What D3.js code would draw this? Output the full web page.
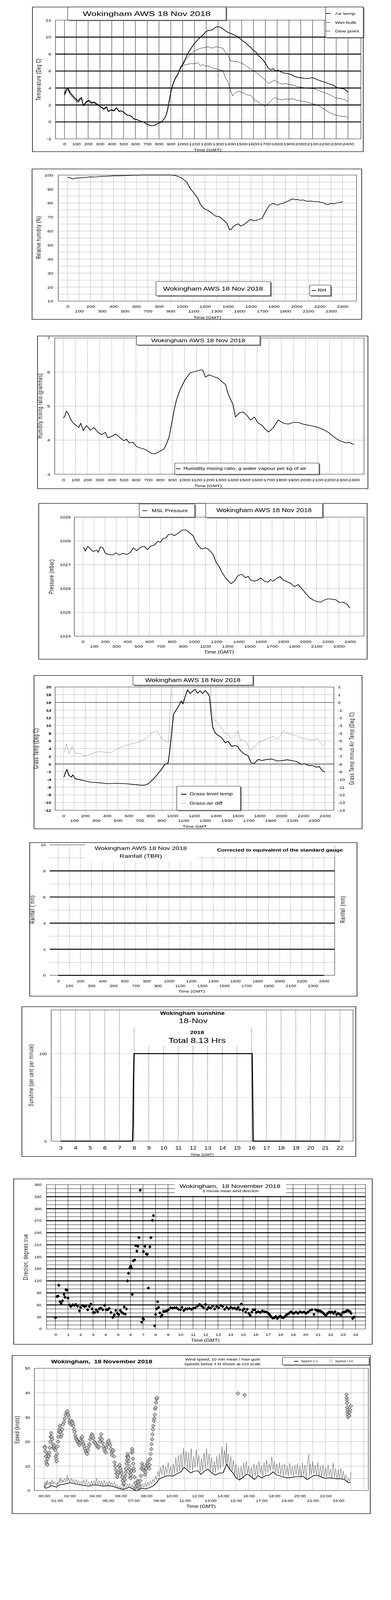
<!DOCTYPE html>
<html>
<head>
<meta charset="utf-8">
<script src="https://cdn.jsdelivr.net/npm/d3@7"></script>
<style>
  html, body { margin: 0; padding: 0; background: #fff; overflow: hidden; }
  #chart svg { display: block; }
  text { white-space: pre; }
</style>
</head>
<body>
<div id="chart"></div>
<script>
// ---------- data ----------
// AWS charts run on a 0..2400 time axis, wind and sun charts on hours
const hundredTicks = d3.range(0, 2401, 100);
const evenTicks = d3.range(0, 2401, 200);
const oddTicks = d3.range(100, 2400, 200);
const sunHourTicks = d3.range(3, 23);
const windHourTicks = d3.range(0, 25);
const evenHourTicks = d3.range(0, 23, 2);
const oddHourTicks = d3.range(1, 24, 2);

const tempAir = [[0,3.31],[15,3.85],[30,3.97],[47,3.49],[68,3.13],[89,2.83],[115,2.47],[132,2.77],[144,2.89],[159,1.92],[185,2.41],[206,2.55],[227,2.28],[249,2.35],[270,2.16],[291,1.98],[312,1.74],[334,1.56],[355,1.8],[370,1.26],[397,1.44],[418,1.32],[440,1.68],[461,1.26],[482,1.32],[503,1.14],[525,0.84],[546,0.78],[567,0.66],[588,0.35],[610,0.29],[631,0.17],[652,0.05],[673,-0.01],[695,-0.25],[716,-0.37],[737,-0.43],[758,-0.43],[780,-0.25],[801,-0.13],[822,-0.01],[843,0.35],[858,0.72],[871,1.32],[879,1.92],[890,2.77],[901,3.61],[918,4.46],[939,5.18],[960,5.66],[981,6.39],[1003,6.87],[1024,7.47],[1045,8.08],[1066,8.56],[1088,9.04],[1109,9.41],[1130,9.71],[1151,10.01],[1173,10.25],[1194,10.61],[1215,10.79],[1236,10.79],[1257,10.91],[1279,11.16],[1300,11.24],[1321,11.16],[1342,10.97],[1363,10.73],[1385,10.55],[1406,10.43],[1427,10.31],[1448,10.19],[1470,10.01],[1491,9.77],[1512,9.53],[1533,9.34],[1554,9.04],[1576,8.8],[1597,8.44],[1618,8.26],[1640,7.84],[1661,7.6],[1682,7.29],[1703,6.87],[1725,6.33],[1746,6.15],[1767,6.27],[1788,6.03],[1809,6.09],[1831,5.91],[1852,5.78],[1884,5.72],[1916,5.6],[1948,5.36],[1979,5.24],[2011,5.18],[2043,5.12],[2075,5.12],[2096,5.24],[2117,5.12],[2149,4.94],[2181,4.76],[2213,4.64],[2245,4.46],[2277,4.34],[2298,4.1],[2330,3.97],[2362,3.91],[2383,3.73],[2400,3.49]];
const tempWet = [[0,3.2],[15,3.7],[30,3.85],[47,3.35],[68,3.0],[89,2.7],[115,2.35],[132,2.65],[144,2.8],[159,1.9],[185,2.35],[206,2.5],[227,2.2],[249,2.3],[270,2.1],[291,1.95],[312,1.7],[334,1.5],[355,1.75],[370,1.22],[397,1.4],[418,1.28],[440,1.64],[461,1.22],[482,1.3],[503,1.1],[525,0.82],[546,0.76],[567,0.64],[588,0.33],[610,0.27],[631,0.15],[652,0.03],[673,-0.03],[695,-0.27],[716,-0.38],[737,-0.44],[758,-0.44],[780,-0.26],[801,-0.14],[822,-0.02],[843,0.34],[858,0.7],[871,1.3],[879,1.9],[890,2.75],[901,3.58],[918,4.42],[939,5.14],[960,5.62],[981,6.3],[1003,6.75],[1024,7.23],[1045,7.66],[1066,7.96],[1088,8.26],[1109,8.44],[1130,8.56],[1151,8.68],[1173,8.74],[1194,8.8],[1215,8.86],[1236,8.74],[1257,8.71],[1279,8.86],[1300,8.83],[1321,8.74],[1342,8.68],[1363,8.14],[1385,7.9],[1402,7.23],[1427,7.17],[1459,7.11],[1491,6.99],[1523,6.75],[1554,6.45],[1587,6.15],[1618,5.85],[1650,5.54],[1682,5.12],[1703,4.88],[1728,4.52],[1756,4.76],[1777,4.94],[1809,4.64],[1841,4.46],[1873,4.52],[1905,4.4],[1937,4.34],[1969,4.16],[2000,4.1],[2032,4.03],[2064,3.97],[2096,3.95],[2128,3.85],[2160,3.67],[2192,3.49],[2224,3.31],[2256,3.13],[2288,2.89],[2319,2.77],[2351,2.71],[2379,2.59],[2400,2.41]];
const tempDew = [[0,3.1],[15,3.55],[30,3.75],[47,3.25],[68,2.9],[89,2.6],[115,2.25],[132,2.55],[144,2.7],[159,1.85],[185,2.3],[206,2.45],[227,2.15],[249,2.25],[270,2.05],[291,1.9],[312,1.65],[334,1.45],[355,1.7],[370,1.2],[397,1.38],[418,1.25],[440,1.6],[461,1.2],[482,1.28],[503,1.08],[525,0.8],[546,0.74],[567,0.62],[588,0.32],[610,0.26],[631,0.14],[652,0.02],[673,-0.04],[695,-0.28],[716,-0.39],[737,-0.45],[758,-0.45],[780,-0.27],[801,-0.15],[822,-0.03],[843,0.33],[858,0.68],[871,1.28],[879,1.88],[890,2.72],[901,3.55],[918,4.38],[939,5.1],[960,5.58],[981,6.35],[1003,6.63],[1024,6.75],[1045,6.81],[1066,6.87],[1098,6.87],[1130,6.99],[1151,6.63],[1173,6.75],[1194,6.57],[1215,6.63],[1247,6.39],[1279,6.27],[1311,6.15],[1342,6.03],[1363,5.18],[1385,4.7],[1402,3.85],[1423,3.07],[1448,3.49],[1480,3.61],[1512,3.43],[1544,3.19],[1576,3.13],[1608,2.59],[1640,2.35],[1671,2.04],[1692,1.86],[1724,2.16],[1756,2.59],[1777,2.89],[1809,2.71],[1841,2.59],[1873,2.71],[1905,2.67],[1937,2.74],[1969,2.53],[2000,2.47],[2032,2.41],[2064,2.28],[2096,2.16],[2128,2.04],[2160,1.86],[2192,1.56],[2224,1.26],[2256,1.02],[2288,0.84],[2319,0.72],[2351,0.66],[2379,0.66],[2400,0.47]];

const rhSeries = [[0,98.3],[20,98],[44,97.2],[70,97.8],[110,98.0],[150,98.2],[197,98.7],[240,98.6],[285,99.0],[340,99.1],[394,99.4],[450,99.5],[504,99.6],[560,99.8],[613,99.9],[700,100],[800,100],[900,100],[941,99.6],[985,98.4],[1018,96.4],[1040,94.9],[1073,90.1],[1106,86.9],[1139,83],[1160,79],[1193,75.9],[1226,74.7],[1259,72.7],[1292,70.7],[1325,70.3],[1358,68],[1390,65.6],[1415,60.8],[1430,61.2],[1445,63.2],[1470,64.5],[1489,65.2],[1511,63.6],[1544,64.8],[1577,67.2],[1598,68.4],[1620,67.4],[1642,67.6],[1670,68.2],[1697,69.1],[1730,74.3],[1763,78.6],[1796,79.8],[1820,78.8],[1839,78.6],[1860,79.5],[1883,79.8],[1905,80.8],[1927,81.4],[1960,83],[1985,82.4],[2004,82.6],[2030,82.0],[2058,82.2],[2090,81.2],[2124,81.4],[2160,81.0],[2190,81],[2210,80.5],[2233,80.2],[2255,79.2],[2277,79],[2300,79.8],[2321,79.4],[2345,80.0],[2365,80.2],[2400,81]];

const mixRatio = [[0,4.65],[12,4.7],[25,4.85],[40,4.78],[56,4.65],[77,4.52],[97,4.46],[128,4.37],[143,4.5],[166,4.28],[190,4.42],[205,4.38],[222,4.29],[253,4.37],[284,4.24],[315,4.16],[346,4.23],[367,4.07],[398,4.11],[433,4.18],[466,4.08],[501,3.98],[522,4.03],[543,3.92],[574,3.94],[605,3.81],[636,3.77],[667,3.74],[698,3.68],[729,3.61],[760,3.6],[801,3.68],[832,3.74],[853,3.9],[874,4.1],[895,4.49],[915,4.88],[936,5.2],[967,5.5],[1008,5.79],[1050,5.98],[1091,6.02],[1133,6.06],[1153,6.05],[1174,5.85],[1205,5.92],[1236,5.87],[1278,5.82],[1309,5.72],[1340,5.63],[1360,5.37],[1381,5.2],[1402,5.04],[1422,4.68],[1454,4.8],[1485,4.83],[1516,4.73],[1547,4.59],[1578,4.68],[1609,4.5],[1640,4.44],[1671,4.31],[1696,4.24],[1733,4.36],[1775,4.59],[1816,4.5],[1858,4.47],[1899,4.52],[1940,4.52],[1982,4.47],[2023,4.44],[2065,4.41],[2106,4.37],[2148,4.31],[2189,4.23],[2230,4.11],[2261,4.03],[2292,3.97],[2334,3.92],[2365,3.93],[2400,3.87]];

const mslPressure = [[7,1027.73],[22,1027.57],[45,1027.78],[67,1027.66],[94,1027.55],[124,1027.62],[139,1027.52],[157,1027.75],[180,1027.71],[202,1027.48],[229,1027.43],[270,1027.41],[297,1027.5],[326,1027.41],[360,1027.48],[394,1027.43],[427,1027.52],[454,1027.71],[484,1027.59],[517,1027.73],[551,1027.78],[580,1027.64],[607,1027.78],[641,1027.82],[675,1027.99],[697,1027.94],[720,1028.1],[747,1028.13],[769,1028.27],[798,1028.29],[821,1028.22],[854,1028.31],[877,1028.41],[900,1028.47],[933,1028.45],[967,1028.31],[990,1028.22],[1017,1027.94],[1046,1027.75],[1068,1027.66],[1102,1027.71],[1136,1027.62],[1170,1027.43],[1197,1027.1],[1226,1026.92],[1248,1026.69],[1282,1026.45],[1309,1026.31],[1332,1026.2],[1361,1026.31],[1395,1026.55],[1429,1026.6],[1462,1026.45],[1484,1026.52],[1507,1026.36],[1541,1026.31],[1574,1026.36],[1597,1026.45],[1631,1026.31],[1664,1026.27],[1687,1026.38],[1709,1026.31],[1743,1026.43],[1772,1026.5],[1799,1026.36],[1833,1026.29],[1867,1026.22],[1901,1026.08],[1935,1026.17],[1968,1025.99],[2002,1025.8],[2036,1025.62],[2069,1025.52],[2103,1025.45],[2137,1025.43],[2171,1025.52],[2204,1025.57],[2238,1025.55],[2272,1025.53],[2306,1025.41],[2339,1025.43],[2373,1025.34],[2400,1025.18]];

const grassTemp = [[5,-3.4],[16,-2.4],[32,-1.4],[51,-3.0],[74,-3.4],[86,-2.8],[109,-3.8],[155,-4.1],[201,-4.4],[248,-4.7],[294,-4.8],[340,-4.9],[410,-5.1],[479,-5.0],[572,-5.1],[641,-5.3],[710,-5.5],[745,-5.5],[780,-5.1],[803,-4.5],[838,-3.5],[872,-2.4],[907,-1.1],[930,-0.1],[960,0.2],[970,2.1],[988,6.7],[1011,13.0],[1034,14.0],[1062,15.3],[1081,16.4],[1097,15.6],[1115,17.4],[1139,19.3],[1162,18.3],[1185,18.9],[1208,19.4],[1231,18.4],[1254,19.0],[1277,18.3],[1300,19.1],[1324,18.4],[1340,17.6],[1354,13.5],[1370,9.5],[1393,8.1],[1416,7.5],[1451,6.9],[1486,5.5],[1509,5.9],[1544,4.6],[1578,4.8],[1601,4.5],[1624,3.5],[1659,2.6],[1694,2.2],[1722,0.3],[1752,0.2],[1787,1.2],[1821,0.9],[1868,1.2],[1914,1.3],[1960,0.8],[2006,0.9],[2053,1.1],[2099,0.9],[2145,0.6],[2180,-0.1],[2215,0.1],[2249,-0.4],[2284,-0.4],[2319,-0.8],[2349,-0.7],[2377,-1.8],[2400,-2.0]];
const grassAirDiff = [[5,-6.54],[28,-5.39],[51,-6.68],[81,-5.68],[109,-6.61],[155,-6.61],[178,-6.9],[213,-6.9],[248,-6.75],[294,-6.47],[340,-6.39],[386,-6.47],[433,-6.54],[479,-6.11],[526,-5.82],[572,-5.6],[618,-5.39],[664,-5.25],[710,-5.03],[757,-4.67],[798,-4.1],[826,-3.81],[861,-3.67],[896,-4.67],[930,-4.89],[965,-5.25],[984,0.35],[993,2.5],[1100,4],[1340,3],[1349,2.2],[1358,-0.8],[1377,-2.1],[1405,-2.5],[1439,-3.1],[1474,-3.9],[1509,-4.1],[1532,-4.67],[1567,-4.53],[1601,-3.67],[1624,-4.96],[1647,-4.82],[1682,-5.25],[1717,-6.25],[1752,-5.82],[1787,-5.17],[1833,-4.96],[1879,-4.67],[1926,-4.39],[1960,-4.82],[1995,-4.24],[2018,-3.67],[2053,-4.03],[2099,-4.17],[2145,-4.39],[2192,-4.67],[2238,-4.82],[2284,-4.89],[2330,-4.67],[2365,-5.39],[2381,-5.68],[2400,-5.25]];

const rainTotal = [[0,0],[2400,0]];
const sunPct = [[3,0],[7.9,0],[7.93,20],[7.96,70],[8.0,100],[16.03,100],[16.06,60],[16.1,0],[22,0]];

const windDir = [[0,28],[0.12,81],[0.2,82],[0.26,109],[0.36,68],[0.46,63],[0.56,70],[0.68,86],[0.76,79],[0.84,98],[0.92,97],[1.0,77],[1.12,60],[1.22,56],[1.37,60],[1.5,59],[1.63,61],[1.77,57],[1.91,45],[2.0,54],[2.17,59],[2.31,56],[2.43,57],[2.57,48],[2.71,56],[2.83,62],[2.93,50],[3.01,41],[3.13,41],[3.25,48],[3.37,43],[3.49,50],[3.61,52],[3.78,48],[3.92,59],[4.06,48],[4.18,48],[4.3,51],[4.44,41],[4.58,29],[4.7,35],[4.82,46],[4.94,39],[5.06,36],[5.18,46],[5.3,41],[5.42,39],[5.5,55],[5.58,37],[5.68,50],[5.76,120],[5.84,139],[5.94,152],[6.02,157],[6.08,152],[6.14,86],[6.22,170],[6.33,172],[6.41,208],[6.51,194],[6.59,206],[6.67,228],[6.78,346],[6.89,17],[6.99,26],[7.05,24],[7.03,193],[7.15,206],[7.27,187],[7.35,186],[7.43,102],[7.55,205],[7.63,228],[7.75,271],[7.83,283],[7.93,8],[8.01,36],[8.09,50],[8.17,68],[8.25,54],[8.35,40],[8.43,31],[8.53,35],[8.63,44],[8.75,44],[8.9,45],[9.04,48],[9.2,53],[9.36,52],[9.52,53],[9.68,53],[9.84,49],[10.0,48],[10.12,54],[10.26,46],[10.4,50],[10.56,50],[10.72,51],[10.88,49],[11.04,52],[11.2,53],[11.37,57],[11.53,61],[11.69,57],[11.85,53],[12.01,61],[12.13,49],[12.25,54],[12.41,52],[12.57,57],[12.73,50],[12.89,56],[13.05,53],[13.21,59],[13.37,56],[13.53,49],[13.69,54],[13.86,50],[14.02,54],[14.18,51],[14.34,52],[14.5,49],[14.62,54],[14.74,48],[14.86,62],[14.98,46],[15.1,50],[15.22,42],[15.34,49],[15.46,39],[15.58,34],[15.7,42],[15.82,48],[15.94,48],[16.06,41],[16.22,43],[16.39,41],[16.55,45],[16.71,43],[16.87,42],[17.03,39],[17.15,35],[17.27,30],[17.39,27],[17.51,28],[17.63,31],[17.75,26],[17.87,30],[17.99,32],[18.11,29],[18.23,28],[18.35,31],[18.47,35],[18.59,37],[18.71,40],[18.84,43],[18.96,40],[19.08,39],[19.24,42],[19.4,39],[19.56,43],[19.72,41],[19.88,42],[20.04,39],[20.2,42],[20.36,46],[20.52,48],[20.68,36],[20.8,48],[20.92,46],[21.04,45],[21.16,45],[21.29,43],[21.41,40],[21.53,36],[21.65,34],[21.77,39],[21.89,42],[22.01,41],[22.13,42],[22.25,39],[22.37,43],[22.49,36],[22.61,39],[22.73,37],[22.85,35],[22.97,41],[23.09,42],[23.21,43],[23.33,46],[23.45,45],[23.57,43],[23.65,39],[23.77,26],[23.9,30]];

const windMean = [[0,1.8],[0.12,0.9],[0.37,1.4],[0.57,2.0],[0.76,1.8],[0.96,1.4],[1.16,2.3],[1.45,2.5],[1.74,2.9],[2.04,3.2],[2.33,2.9],[2.63,2.5],[2.92,2.3],[3.21,2.0],[3.51,1.8],[3.8,2.3],[4.09,2.3],[4.39,2.0],[4.68,1.8],[4.98,2.0],[5.27,1.8],[5.56,1.4],[5.86,0.9],[6.15,0.45],[6.45,0.9],[6.64,1.4],[6.94,0.7],[7.13,0],[7.33,0.2],[7.62,0.9],[7.92,0.7],[8.21,1.1],[8.5,1.8],[8.8,3.2],[8.99,4.8],[9.19,5.2],[9.48,5.9],[9.78,6.1],[10.07,5.9],[10.36,6.8],[10.66,7.5],[10.95,9.5],[11.15,8.6],[11.44,7.2],[11.74,7.9],[12.03,8.1],[12.26,6.6],[12.52,7.9],[12.81,8.8],[13.11,7.2],[13.4,6.3],[13.7,7.2],[13.99,7.2],[14.28,10.9],[14.48,8.8],[14.77,7.2],[14.97,5.4],[15.26,4.3],[15.56,5.4],[15.85,6.8],[16.14,5.9],[16.44,4.5],[16.73,6.1],[17.03,5.2],[17.32,6.1],[17.61,6.3],[17.91,7.7],[18.2,6.3],[18.5,5.9],[18.79,5.4],[19.08,5.2],[19.38,5.4],[19.67,5.7],[19.96,5.7],[20.26,5.9],[20.55,4.5],[20.85,5.4],[21.14,6.3],[21.43,6.1],[21.73,5.4],[22.02,5.0],[22.31,5.2],[22.61,5.0],[22.9,4.8],[23.2,4.8],[23.49,4.5],[23.78,3.2],[23.97,3.4]];
const windGust = [[0,1.8],[0.05,3.2],[0.1,1.5],[0.15,3.8],[0.2,2.0],[0.25,4.2],[0.3,2.5],[0.4,3.5],[0.45,1.8],[0.5,3.6],[0.55,2.2],[0.6,4.5],[0.7,2.5],[0.75,3.8],[0.85,2.8],[0.9,3.2],[1.0,2.0],[1.05,3.5],[1.1,2.6],[1.2,4.8],[1.25,3.0],[1.3,5.2],[1.4,3.2],[1.45,4.5],[1.5,3.4],[1.6,5.0],[1.7,3.5],[1.8,6.3],[1.85,3.8],[1.9,5.0],[2.0,3.3],[2.1,5.2],[2.2,3.5],[2.3,4.6],[2.4,3.0],[2.5,4.5],[2.6,2.8],[2.7,4.0],[2.8,2.4],[2.9,3.8],[3.0,2.8],[3.1,4.3],[3.2,2.2],[3.3,4.6],[3.4,2.5],[3.5,3.5],[3.6,2.0],[3.7,3.8],[3.8,2.5],[3.9,4.0],[4.0,2.3],[4.1,5.0],[4.2,2.5],[4.3,4.0],[4.4,2.2],[4.5,3.8],[4.6,2.0],[4.7,4.2],[4.8,2.0],[4.9,3.5],[5.0,1.8],[5.1,3.8],[5.2,2.2],[5.3,3.3],[5.4,1.8],[5.5,3.6],[5.6,1.2],[5.7,2.5],[5.8,0.8],[5.9,1.8],[6.0,0.7],[6.1,1.5],[6.2,0.5],[6.3,2.2],[6.4,1.0],[6.5,2.8],[6.6,1.5],[6.7,3.0],[6.8,1.2],[6.9,2.5],[7.0,0.5],[7.1,1.8],[7.2,0.3],[7.3,2.2],[7.4,0.8],[7.5,3.0],[7.6,1.5],[7.7,2.8],[7.8,1.2],[7.9,3.0],[8.0,1.5],[8.1,3.5],[8.2,2.0],[8.3,4.0],[8.4,2.5],[8.5,4.5],[8.6,3.5],[8.7,6.0],[8.8,4.5],[8.9,8.0],[9.0,5.5],[9.1,9.5],[9.2,6.5],[9.3,10.5],[9.4,6.0],[9.5,9.8],[9.6,7.0],[9.7,11.5],[9.8,6.5],[9.9,10.0],[10.0,6.0],[10.1,11.0],[10.2,7.0],[10.3,13.5],[10.4,7.5],[10.5,14.5],[10.6,8.0],[10.7,15.0],[10.8,9.0],[10.9,17.5],[11.0,10.0],[11.1,16.0],[11.2,9.0],[11.3,15.5],[11.4,8.5],[11.5,17.2],[11.6,8.0],[11.7,14.0],[11.8,9.5],[11.9,16.8],[12.0,10.0],[12.1,14.5],[12.2,7.5],[12.3,13.0],[12.4,8.0],[12.5,15.5],[12.6,9.0],[12.7,17.2],[12.8,10.0],[12.9,15.0],[13.0,8.5],[13.1,13.5],[13.2,7.0],[13.3,12.0],[13.4,7.5],[13.5,14.0],[13.6,8.5],[13.7,15.0],[13.8,9.0],[13.9,18.0],[14.0,10.0],[14.1,16.5],[14.2,11.0],[14.25,19.5],[14.3,10.5],[14.4,15.0],[14.5,9.0],[14.6,14.0],[14.7,8.0],[14.8,12.5],[14.9,6.5],[15.0,11.0],[15.1,5.0],[15.2,9.5],[15.3,4.5],[15.4,10.0],[15.5,5.5],[15.6,11.5],[15.7,6.5],[15.8,12.0],[15.9,7.0],[16.0,10.0],[16.1,5.5],[16.2,9.5],[16.3,5.0],[16.4,11.0],[16.5,6.0],[16.6,10.5],[16.7,6.5],[16.8,12.0],[16.9,7.0],[17.0,10.0],[17.1,6.0],[17.2,11.5],[17.3,7.0],[17.4,12.5],[17.5,7.5],[17.6,11.0],[17.7,8.0],[17.8,13.8],[17.9,8.5],[18.0,12.0],[18.1,7.5],[18.2,11.0],[18.3,7.0],[18.4,11.5],[18.5,6.5],[18.6,10.5],[18.7,6.0],[18.8,11.0],[18.9,6.5],[19.0,10.0],[19.1,6.0],[19.2,11.2],[19.3,6.5],[19.4,10.0],[19.5,6.0],[19.6,10.5],[19.7,6.5],[19.8,11.0],[19.9,6.0],[20.0,10.0],[20.1,5.5],[20.2,11.5],[20.3,6.5],[20.4,10.5],[20.5,5.0],[20.6,12.0],[20.7,14.8],[20.75,6.0],[20.8,11.0],[20.9,6.5],[21.0,12.0],[21.1,7.0],[21.2,10.5],[21.3,6.5],[21.4,11.5],[21.5,6.0],[21.6,10.0],[21.7,5.5],[21.8,10.5],[21.9,6.0],[22.0,9.5],[22.1,5.5],[22.2,10.5],[22.3,6.0],[22.4,9.0],[22.5,5.0],[22.6,11.2],[22.7,5.5],[22.8,9.0],[22.9,5.0],[23.0,8.5],[23.1,4.8],[23.2,9.0],[23.3,5.0],[23.4,8.0],[23.5,4.5],[23.6,6.5],[23.7,3.5],[23.8,5.0],[23.9,3.8],[24.0,7.5]];
const windSlow = [[0.04,18],[0.07,17.5],[0.11,16],[0.14,14],[0.17,12],[0.21,11],[0.24,10.5],[0.27,13],[0.31,15],[0.34,14.5],[0.37,14],[0.4,15.5],[0.44,17.5],[0.47,20],[0.51,22],[0.55,23.5],[0.59,22],[0.64,21],[0.68,19],[0.72,17.5],[0.76,17.5],[0.8,18.5],[0.83,17],[0.87,16.5],[0.91,14],[0.94,13],[0.98,12],[1.02,15],[1.05,18],[1.09,20],[1.12,22],[1.15,24],[1.19,25],[1.22,26.5],[1.25,25.5],[1.29,24],[1.32,22],[1.35,23],[1.42,25],[1.48,27],[1.55,28],[1.61,29.5],[1.68,31],[1.75,32],[1.81,32.5],[1.88,31],[1.94,30],[1.99,28.5],[2.04,27.5],[2.09,27],[2.14,28.5],[2.19,28],[2.23,27.5],[2.28,26.5],[2.33,25],[2.38,24],[2.43,22.5],[2.48,21.5],[2.53,21],[2.58,20.5],[2.63,20],[2.68,19.5],[2.72,19],[2.77,18.5],[2.82,19.5],[2.87,20.5],[2.92,21.5],[2.97,22],[3.02,20],[3.08,19],[3.14,18],[3.19,17],[3.25,16],[3.31,15.5],[3.37,15],[3.43,16.5],[3.48,18],[3.54,19],[3.6,21],[3.66,22],[3.73,23],[3.79,22.5],[3.85,21.5],[3.91,20],[3.98,19.5],[4.04,19],[4.1,18.5],[4.16,18],[4.22,17.5],[4.28,18],[4.34,20],[4.4,21.5],[4.46,23],[4.52,21],[4.58,19.5],[4.64,18],[4.7,17],[4.76,16],[4.82,15.5],[4.88,17.5],[4.93,19],[4.99,20],[5.05,20.5],[5.11,19.5],[5.17,18.5],[5.22,17],[5.27,15.5],[5.32,14.5],[5.37,16],[5.42,16.5],[5.46,14],[5.51,11.5],[5.56,10],[5.61,8.5],[5.66,7],[5.71,5.5],[5.76,6.5],[5.81,7.5],[5.86,10],[5.91,10.5],[5.96,9],[6.01,8],[6.05,7],[6.1,5.5],[6.15,4],[6.2,2.5],[6.25,3],[6.3,4.5],[6.35,6],[6.38,7.5],[6.41,9],[6.44,11],[6.47,12.5],[6.5,14],[6.53,15],[6.56,14],[6.59,13.5],[6.62,12],[6.65,10],[6.68,8.5],[6.71,7],[6.73,5.5],[6.76,5],[6.79,6.5],[6.82,8],[6.85,15.5],[6.88,17],[6.91,16],[6.94,13],[6.97,11],[7.0,9],[7.03,8],[7.08,5.5],[7.13,3],[7.18,1.5],[7.23,0.5],[7.28,2],[7.32,4],[7.37,3.5],[7.42,2.5],[7.47,1.5],[7.52,4],[7.57,6],[7.61,9],[7.66,11],[7.7,10],[7.75,8.5],[7.8,9.5],[7.84,8],[7.89,6.5],[7.93,7.5],[7.98,9],[8.03,10.5],[8.07,11],[8.12,12],[8.16,10],[8.21,9],[8.25,10.5],[8.3,13],[8.33,15],[8.37,17],[8.4,19],[8.44,21],[8.47,23],[8.51,25],[8.54,26.5],[8.58,28.5],[8.61,29.5],[8.65,31],[8.68,33.5],[8.72,34],[8.75,36],[8.79,37.5],[8.82,38],[15.16,39.7],[15.68,39.1],[23.65,39.3],[23.66,38],[23.68,37],[23.69,35.8],[23.71,34],[23.72,33],[23.74,32],[23.75,31],[23.77,30],[23.86,30.6],[23.9,32],[23.94,33],[23.98,34.7]];

// ---------- drawing helpers ----------
const FONT = '"Liberation Sans", Arial, Helvetica, sans-serif';
const K = 1.2; // the source bitmaps are stretched sideways

// the page is laid out on a 1000 x 5000 canvas; the window that photographs
// it may be shorter, so the canvas is fitted to whatever height is on offer
const PAGE_W = 1000, PAGE_H = 5000;
const viewH = Math.min(PAGE_H, window.innerHeight || PAGE_H);

const svg = d3.select('#chart').append('svg')
  .attr('width', PAGE_W).attr('height', viewH)
  .attr('viewBox', `0 0 ${PAGE_W} ${PAGE_H}`)
  .attr('preserveAspectRatio', 'none')
  .style('background', '#fff');

function txt(x, y, s, o = {}) {
  const k = o.k ?? K;
  return svg.append('text')
    .attr('transform', `translate(${x},${y}) scale(${k},1)` + (o.rot ? ` rotate(${o.rot})` : ''))
    .attr('text-anchor', o.anchor ?? 'middle')
    .attr('dominant-baseline', 'central')
    .style('font-family', FONT)
    .style('font-size', (o.size ?? 12) + 'px')
    .style('font-weight', o.bold ? 'bold' : 'normal')
    .style('letter-spacing', (o.ls ?? 0) + 'px')
    .attr('fill', o.fill ?? '#000')
    .text(s);
}

function box(x0, y0, x1, y1, o = {}) {
  if (o.shadow) {
    svg.append('rect').attr('x', x0 + 3).attr('y', y0 + 3)
      .attr('width', x1 - x0).attr('height', y1 - y0).attr('fill', '#808080');
  }
  svg.append('rect').attr('x', x0).attr('y', y0)
    .attr('width', x1 - x0).attr('height', y1 - y0)
    .attr('fill', o.fill ?? '#fff').attr('stroke', o.stroke ?? '#000')
    .attr('stroke-width', o.w ?? 1);
}

function whiteOut(x0, y0, x1, y1) {
  svg.append('rect').attr('x', x0).attr('y', y0)
    .attr('width', x1 - x0).attr('height', y1 - y0).attr('fill', '#fff');
}

function hGrid(vals, y, x0, x1, st = {}) {
  svg.append('g').selectAll('line').data(vals).join('line')
    .attr('x1', x0).attr('x2', x1)
    .attr('y1', d => y(d)).attr('y2', d => y(d))
    .attr('stroke', st.c ?? '#000').attr('stroke-width', st.w ?? 1)
    .attr('stroke-dasharray', st.dash ?? null);
}

function vGrid(vals, x, y0, y1, st = {}) {
  svg.append('g').selectAll('line').data(vals).join('line')
    .attr('y1', y0).attr('y2', y1)
    .attr('x1', d => x(d)).attr('x2', d => x(d))
    .attr('stroke', st.c ?? '#000').attr('stroke-width', st.w ?? 1)
    .attr('stroke-dasharray', st.dash ?? null);
}

function styleAxis(g, o) {
  g.select('.domain').remove();
  g.selectAll('.tick line').remove();
  g.selectAll('text')
    .style('font-family', FONT)
    .style('font-size', (o.size ?? 12) + 'px')
    .style('font-weight', o.bold ? 'bold' : 'normal')
    .attr('fill', '#000')
    .attr('transform', `scale(${o.k ?? K},1)`);
}

const plain = d => String(d);

// labels right-aligned to xRight
function leftAxis(y, vals, xRight, o = {}) {
  svg.append('g').attr('transform', `translate(${xRight},0)`)
    .call(d3.axisLeft(y).tickValues(vals).tickSize(0).tickPadding(0).tickFormat(o.fmt ?? plain))
    .call(styleAxis, o);
}
function rightAxis(y, vals, xLeft, o = {}) {
  svg.append('g').attr('transform', `translate(${xLeft},0)`)
    .call(d3.axisRight(y).tickValues(vals).tickSize(0).tickPadding(0).tickFormat(o.fmt ?? plain))
    .call(styleAxis, o);
}
// labels centred vertically on yMid
function bottomAxis(x, vals, yMid, o = {}) {
  const size = o.size ?? 12;
  svg.append('g').attr('transform', `translate(0,${yMid - size * 0.36})`)
    .call(d3.axisBottom(x).tickValues(vals).tickSize(0).tickPadding(0).tickFormat(o.fmt ?? plain))
    .call(styleAxis, o);
}

function drawLine(data, x, y, st, clip) {
  const p = svg.append('path').datum(data)
    .attr('fill', 'none')
    .attr('stroke', st.c ?? '#000')
    .attr('stroke-width', st.w ?? 1)
    .attr('stroke-linejoin', 'round')
    .attr('d', d3.line().x(d => x(d[0])).y(d => y(d[1])));
  if (clip) p.attr('clip-path', `url(#${clip})`);
  return p;
}

function clipRect(id, x0, y0, x1, y1) {
  svg.append('clipPath').attr('id', id).append('rect')
    .attr('x', x0).attr('y', y0).attr('width', x1 - x0).attr('height', y1 - y0);
}

function legendLine(x0, x1, yy, w, c = '#000') {
  svg.append('line').attr('x1', x0).attr('x2', x1).attr('y1', yy).attr('y2', yy)
    .attr('stroke', c).attr('stroke-width', w);
}

const diamond = d3.symbol().type(d3.symbolDiamond).size(34);
const hhmm = d => String(d).padStart(2, '0') + ':00';

// ---------- 1. temperature ----------
{
  const x = d3.scaleLinear().domain([-76, 2509]).range([142, 923]);
  const y = d3.scaleLinear().domain([-2, 12]).range([434, 63]);
  box(83, 22, 929, 474, { w: 1.5 });
  vGrid(hundredTicks, x, 63, 434);
  hGrid([0, 2, 4, 6, 8, 10], y, 142, 923, { w: 3 });
  box(142, 63, 923, 434, { fill: 'none' });
  drawLine(tempDew, x, y, { w: 1 });
  drawLine(tempWet, x, y, { w: 1 });
  drawLine(tempAir, x, y, { w: 2 });

  box(173, 22, 578, 63, { shadow: true });
  txt(375, 43, 'Wokingham AWS 18 Nov 2018', { size: 21, k: 1.14 });
  box(833, 22, 929, 117, { shadow: true });
  [['Air temp', 42, 2], ['Wet bulb', 70, 1], ['Dew point', 97, 1]].forEach(([s, yy, w]) => {
    legendLine(833, 845, yy, w);
    txt(857, yy, s, { size: 12, anchor: 'start', k: 1.15 });
  });

  leftAxis(y, d3.range(-2, 13, 2), 131, { size: 11, k: 1.2 });
  bottomAxis(x, hundredTicks, 450, { size: 11, k: 1.2 });
  txt(531, 468, 'Time (GMT)', { size: 12, k: 1.1 });
  txt(99, 248, 'Temperature (Deg C)', { size: 12, rot: -90, ls: 1, k: 1.3 });
}

// ---------- 2. relative humidity ----------
{
  const x = d3.scaleLinear().domain([-82, 2523]).range([149, 912]);
  const y = d3.scaleLinear().domain([10, 100]).range([941, 547]);
  box(82, 528, 925, 998, { w: 1.5 });
  hGrid(d3.range(15, 100, 5), y, 149, 912, { dash: '1,2', c: '#222' });
  vGrid(hundredTicks, x, 547, 941, { dash: '1,2', c: '#222' });
  box(149, 547, 912, 941, { fill: 'none' });
  drawLine(rhSeries, x, y, { w: 1.8 });

  box(399, 880, 692, 924, { shadow: true });
  txt(545, 902, 'Wokingham AWS 18 Nov 2018', { size: 17, k: 1.1 });
  box(792, 891, 846, 924, { shadow: true });
  legendLine(797, 808, 908, 2);
  txt(813, 907, 'RH', { size: 14, anchor: 'start', k: 1.05 });

  leftAxis(y, d3.range(10, 101, 10), 136, { size: 12, k: 1.1 });
  bottomAxis(x, evenTicks, 958, { size: 12, k: 1.1 });
  bottomAxis(x, oddTicks, 972, { size: 12, k: 1.1 });
  txt(530, 991, 'Time (GMT)', { size: 12, k: 1.1 });
  txt(99, 742, 'Relative humidity (%)', { size: 12, rot: -90, ls: 1, k: 1.3 });
}

// ---------- 3. humidity mixing ratio ----------
{
  const x = d3.scaleLinear().domain([-71, 2484]).range([140, 931]);
  const y = d3.scaleLinear().domain([3, 7]).range([1482, 1056]);
  box(96, 1050, 941, 1527, { w: 1.5 });
  hGrid([4, 5, 6], y, 140, 931, { dash: '1,2', c: '#222' });
  vGrid(hundredTicks, x, 1056, 1482, { dash: '1,2', c: '#222' });
  box(140, 1056, 931, 1482, { fill: 'none' });
  drawLine(mixRatio, x, y, { w: 1.8 });

  box(349, 1050, 665, 1078, { shadow: true });
  txt(507, 1064, 'Wokingham AWS 18 Nov 2018', { size: 16, k: 1.1 });
  box(447, 1447, 816, 1482, { shadow: true });
  legendLine(450, 462, 1465, 2);
  txt(469, 1464, 'Humidity mixing ratio, g water vapour per kg of air', { size: 13, anchor: 'start', k: 1.1 });

  leftAxis(y, [3, 4, 5, 6, 7], 128, { size: 12, k: 1.1 });
  bottomAxis(x, hundredTicks, 1500, { size: 11, k: 1.2 });
  txt(532, 1518, 'Time (GMT)', { size: 12, k: 1.1 });
  txt(103, 1268, 'Humidity mixing ratio (grammes)', { size: 12, rot: -90, ls: 1, k: 1.3 });
}

// ---------- 4. MSL pressure ----------
{
  const x = d3.scaleLinear().domain([-77, 2526]).range([190, 931]);
  const y = d3.scaleLinear().domain([1024, 1029]).range([1988, 1616]);
  box(99, 1573, 939, 2060, { w: 1.5 });
  hGrid([1025, 1026, 1027, 1028], y, 190, 931, { dash: '1,2', c: '#222' });
  vGrid(hundredTicks, x, 1616, 1988, { dash: '1,2', c: '#222' });
  box(190, 1616, 931, 1988, { fill: 'none' });
  drawLine(mslPressure, x, y, { w: 1.8 });

  box(356, 1575, 498, 1616, { shadow: true });
  legendLine(364, 376, 1596, 2);
  txt(388, 1595, 'MSL Pressure', { size: 14, anchor: 'start', k: 1.05 });
  box(526, 1573, 825, 1617, { shadow: true });
  txt(675, 1594, 'Wokingham AWS 18 Nov 2018', { size: 17, k: 1.05 });

  leftAxis(y, d3.range(1024, 1030), 181, { size: 12, k: 1.05 });
  bottomAxis(x, evenTicks, 2005, { size: 12, k: 1.1 });
  bottomAxis(x, oddTicks, 2020, { size: 12, k: 1.1 });
  txt(560, 2038, 'Time (GMT)', { size: 13, k: 1.1 });
  txt(131, 1802, 'Pressure (mbar)', { size: 13, rot: -90, ls: 1, k: 1.3 });
}

// ---------- 5. grass temperature ----------
{
  const x = d3.scaleLinear().domain([-76, 2482]).range([141, 854]);
  const yL = d3.scaleLinear().domain([-12, 20]).range([2532, 2147]);
  const yR = d3.scaleLinear().domain([-14, 2]).range([2532, 2147]);
  box(87, 2111, 926, 2590, { w: 1.5 });
  hGrid(d3.range(-10, 20, 2).filter(v => v !== 0 && v !== 16), yL, 141, 854, { dash: '1,2', c: '#222' });
  vGrid(hundredTicks, x, 2147, 2532, { dash: '1,2', c: '#222' });
  hGrid([0, 16], yL, 141, 854, { w: 1.5 });
  box(141, 2147, 854, 2532, { fill: 'none' });
  clipRect('clip5', 141, 2147, 854, 2532);
  drawLine(grassAirDiff, x, yR, { w: 1, c: '#8a8a8a' }, 'clip5');
  drawLine(grassTemp, x, yL, { w: 2 }, 'clip5');

  box(340, 2111, 647, 2141, { shadow: true });
  txt(493, 2125, 'Wokingham AWS 18 Nov 2018', { size: 17, k: 1.05 });
  box(452, 2457, 615, 2532, { shadow: true });
  legendLine(463, 477, 2482, 2.5);
  txt(485, 2481, 'Grass level temp', { size: 14, anchor: 'start', k: 1.05 });
  legendLine(463, 477, 2511, 1, '#8a8a8a');
  txt(485, 2510, 'Grass-air diff', { size: 14, anchor: 'start', k: 1.05 });

  leftAxis(yL, d3.range(-12, 21, 2), 131, { size: 12, bold: true, k: 1.0 });
  rightAxis(yR, d3.range(-14, 3), 864, { size: 12, k: 1.05 });
  bottomAxis(x, evenTicks, 2550, { size: 12, k: 1.1 });
  bottomAxis(x, oddTicks, 2564, { size: 12, k: 1.1 });
  txt(498, 2582, 'Time GMT', { size: 12, k: 1.1 });
  txt(93, 2339, 'Grass Temp (Deg C)', { size: 12, rot: -90, ls: 1, k: 1.3 });
  txt(900, 2339, 'Grass Temp minus Air Temp (Deg C)', { size: 12, rot: -90, ls: 1, k: 1.3 });
}

// ---------- 6. rainfall ----------
{
  const x = d3.scaleLinear().domain([-77, 2497]).range([127, 856]);
  const y = d3.scaleLinear().domain([0, 10]).range([3048, 2640]);
  box(76, 2633, 913, 3113, { w: 1.5 });
  vGrid(hundredTicks, x, 2640, 3048, { dash: '1,2', c: '#222' });
  hGrid([1, 3, 5, 7, 9], y, 127, 856, { dash: '1,2', c: '#222' });
  hGrid([2, 4, 6, 8], y, 127, 856, { w: 3 });
  hGrid([0, 10], y, 127, 856, { w: 1 });
  svg.append('line').attr('x1', 856).attr('x2', 856).attr('y1', 2640).attr('y2', 3048).attr('stroke', '#000');
  whiteOut(218, 2637, 503, 2692);
  whiteOut(503, 2637, 856, 2677);
  drawLine(rainTotal, x, y, { w: 3 });

  txt(360, 2651, 'Wokingham AWS 18 Nov 2018', { size: 15, k: 1.15 });
  txt(360, 2675, 'Rainfall (TBR)', { size: 15, k: 1.15 });
  txt(716, 2656, 'Corrected to equivalent of the standard gauge', { size: 14, bold: true, k: 1.05 });

  leftAxis(y, d3.range(0, 11, 2), 117, { size: 12, k: 1.0 });
  bottomAxis(x, evenTicks, 3066, { size: 12, k: 1.0 });
  bottomAxis(x, oddTicks, 3080, { size: 12, k: 1.0 });
  txt(490, 3098, 'Time (GMT)', { size: 12, k: 1.05 });
  txt(83, 2842, 'Rainfall ( mm)', { size: 12, rot: -90, ls: 1, k: 1.3 });
  txt(877, 2842, 'Rainfall (mm)', { size: 12, rot: -90, ls: 1, k: 1.3 });
}

// ---------- 7. sunshine ----------
{
  const x = d3.scaleLinear().domain([2.36, 22.9]).range([131, 903]);
  const y = d3.scaleLinear().domain([0, 150]).range([3566, 3156]);
  box(56, 3146, 910, 3614, { w: 1.5 });
  hGrid([50, 100], y, 131, 903, { dash: '1,1', c: '#999' });
  vGrid(sunHourTicks, x, 3156, 3566, { dash: '3,3', c: '#000' });
  box(131, 3156, 903, 3566, { fill: 'none' });
  whiteOut(329, 3157, 662, 3211);
  whiteOut(346, 3211, 640, 3268);
  drawLine(sunPct, x, y, { w: 3 });

  txt(492, 3166, 'Wokingham sunshine', { size: 16, bold: true, k: 1.0 });
  txt(494, 3190, '18-Nov', { size: 20, k: 1.15 });
  txt(504, 3226, '2018', { size: 14, bold: true, k: 1.15 });
  txt(504, 3251, 'Total 8.13 Hrs', { size: 22, k: 1.08 });

  leftAxis(y, [0, 100], 120, { size: 12, k: 1.0 });
  bottomAxis(x, sunHourTicks, 3587, { size: 16, k: 1.0 });
  txt(517, 3608, 'Time (GMT)', { size: 11, k: 1.0 });
  txt(80, 3360, 'Sunshine (per cent per minute)', { size: 12, rot: -90, ls: 1, k: 1.3 });
}

// ---------- 8. wind direction ----------
{
  const x = d3.scaleLinear().domain([-0.72, 24.81]).range([119, 935]);
  const y = d3.scaleLinear().domain([0, 360]).range([4153, 3702]);
  box(35, 3684, 952, 4201, { w: 1.5 });
  hGrid(d3.range(10, 360, 10).filter(v => v % 30 !== 0), y, 119, 935, { w: 1 });
  vGrid(windHourTicks, x, 3702, 4153, { w: 1 });
  hGrid(d3.range(30, 360, 30), y, 119, 935, { w: 3 });
  box(119, 3702, 935, 4153, { fill: 'none' });
  whiteOut(447, 3690, 732, 3737);

  svg.append('g').selectAll('path').data(windDir).join('path')
    .attr('d', diamond)
    .attr('transform', d => `translate(${x(d[0])},${y(d[1])}) scale(1.3,1)`)
    .attr('fill', '#000');

  txt(588, 3707, 'Wokingham,  18 November 2018', { size: 15, k: 1.18 });
  txt(590, 3722, '5 minute mean wind direction', { size: 10, k: 1.1 });

  leftAxis(y, d3.range(0, 361, 30), 106, { size: 11, k: 1.0 });
  bottomAxis(x, windHourTicks, 4171, { size: 12, k: 1.0 });
  txt(525, 4189, 'Time (GMT)', { size: 13, k: 1.05 });
  txt(66, 3928, 'Direction, degrees true', { size: 12, rot: -90, ls: 1, k: 1.3 });
}

// ---------- 9. wind speed ----------
{
  const x = d3.scaleLinear().domain([-0.76, 25.35]).range([88, 942]);
  const y = d3.scaleLinear().domain([0, 50]).range([4658, 4276]);
  box(31, 4236, 947, 4730, { w: 1.5 });
  hGrid(d3.range(5, 50, 5), y, 88, 942, { dash: '1,2', c: '#222' });
  vGrid(d3.range(0, 26), x, 4276, 4658, { dash: '1,2', c: '#222' });
  box(88, 4276, 942, 4658, { fill: 'none' });
  drawLine(windGust, x, y, { w: 1, c: '#555' });
  drawLine(windMean, x, y, { w: 1.8 });

  svg.append('g').selectAll('path').data(windSlow).join('path')
    .attr('d', diamond)
    .attr('transform', d => `translate(${x(d[0])},${y(d[1])}) scale(1.55,1.05)`)
    .attr('fill', '#c4c4c4').attr('stroke', '#333').attr('stroke-width', 0.7);

  txt(260, 4254, 'Wokingham,  18 November 2018', { size: 16, bold: true, k: 1.06 });
  txt(569, 4248, 'Wind speed, 10 min mean / max gust', { size: 11, k: 1.05 });
  txt(569, 4263, 'Speeds below 4 kt shown at x10 scale', { size: 11, k: 1.05 });
  box(722, 4242, 944, 4265, { shadow: true });
  legendLine(752, 763, 4254, 2);
  txt(770, 4253, 'Speed x 1', { size: 9, anchor: 'start', k: 1.05 });
  svg.append('path').attr('d', diamond)
    .attr('transform', 'translate(846,4253) scale(1.3,0.9)')
    .attr('fill', '#fff').attr('stroke', '#333').attr('stroke-width', 0.7);
  txt(857, 4253, 'Speed / 10', { size: 9, anchor: 'start', k: 1.05 });

  leftAxis(y, d3.range(0, 51, 10), 77, { size: 12, k: 1.0 });
  bottomAxis(x, evenHourTicks, 4675, { size: 12, k: 1.0, fmt: hhmm });
  bottomAxis(x, oddHourTicks, 4689, { size: 12, k: 1.0, fmt: hhmm });
  txt(514, 4707, 'Time (GMT)', { size: 14, k: 1.0 });
  txt(44, 4468, 'Speed (knots)', { size: 12, rot: -90, ls: 1, k: 1.3 });
}
</script>
</body>
</html>
